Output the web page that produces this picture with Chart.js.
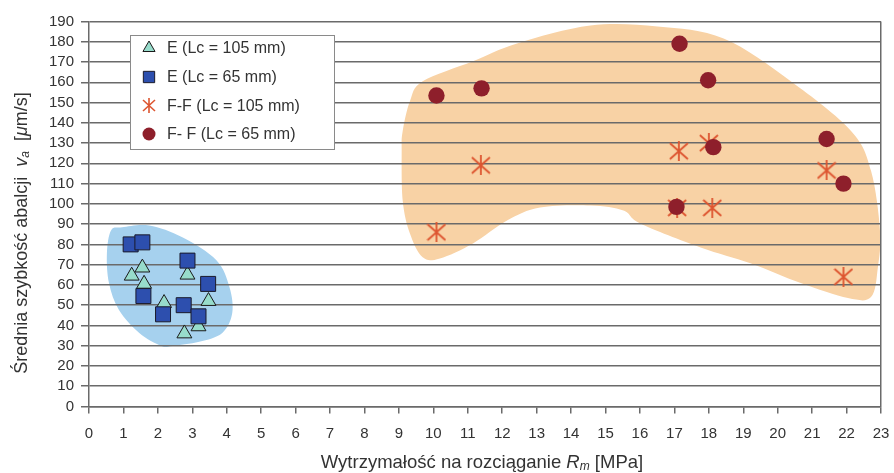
<!DOCTYPE html>
<html lang="pl">
<head>
<meta charset="utf-8">
<script src="https://cdn.jsdelivr.net/npm/chart.js@4/dist/chart.umd.min.js"></script>
<style>
  html, body { margin: 0; padding: 0; background: #fff; }
  #wrap { width: 894px; height: 473px; position: relative; }
</style>
</head>
<body>
<div id="wrap"><canvas id="chart"></canvas></div>
<script>
// Series labels (legend order)
const seriesLabels = ['E (Lc = 105 mm)', 'E (Lc = 65 mm)', 'F-F (Lc = 105 mm)', 'F- F (Lc = 65 mm)'];

// E, Lc = 105 mm
const e105X = [1.24, 1.55, 1.60, 2.18, 2.86, 3.47, 3.18, 2.77];
const e105Y = [64.5, 68.5, 60.5, 51.0, 65.0, 52.0, 39.5, 36.0];
// E, Lc = 65 mm
const e65X = [1.21, 1.55, 2.86, 1.58, 2.15, 2.75, 3.18, 3.46];
const e65Y = [80.0, 81.0, 72.0, 54.5, 45.5, 50.0, 44.5, 60.5];
// F-F, Lc = 105 mm
const ff105X = [10.09, 11.38, 17.13, 18.00, 17.08, 18.10, 21.42, 21.91];
const ff105Y = [86.0, 119.0, 126.0, 130.0, 98.0, 98.0, 116.5, 64.0];
// F-F, Lc = 65 mm
const ff65X = [10.09, 11.40, 17.15, 17.98, 18.13, 21.42, 21.91, 17.06];
const ff65Y = [153.5, 157.0, 179.0, 161.0, 128.0, 132.0, 110.0, 98.5];

// Axis ranges
const xMin = 0, xMax = 23, xStep = 1;
const yMin = 0, yMax = 190, yStep = 10;

// Outlines of the shaded groups (axis units)
const blueZoneX = [0.96, 1.75, 2.71, 3.70, 4.08, 4.16, 3.87, 3.20, 2.42, 2.10, 1.46, 0.87, 0.58, 0.52, 0.64];
const blueZoneY = [88.4, 89.3, 83.5, 72.2, 58.9, 46.1, 36.3, 31.9, 29.9, 29.9, 36.3, 47.6, 60.9, 75.6, 86.9];
const orangeZoneX = [9.69, 11.15, 12.43, 14.56, 16.51, 18.43, 20.38, 22.13, 22.71, 22.97, 22.91, 22.71, 22.04, 20.67, 19.21, 17.76, 16.01, 15.52, 14.56, 13.10, 12.14, 11.15, 10.19, 9.69, 9.32, 9.11, 9.08, 9.11, 9.32];
const orangeZoneY = [160.5, 170.4, 179.2, 188.0, 187.5, 181.6, 160.5, 136.0, 116.3, 86.9, 68.7, 54.0, 53.5, 60.9, 70.7, 78.5, 90.3, 96.7, 99.2, 98.2, 91.8, 80.5, 73.1, 73.6, 85.4, 101.6, 126.2, 136.0, 150.7];

const FONT = '"Liberation Sans", Arial, sans-serif';
const TEXT = '#333333';
const GRID = '#6a6a6a';

function toPoints(xs, ys) { return xs.map((x, i) => ({ x: x, y: ys[i] })); }

// Six-armed asterisk marker
function makeAsterisk(w, h, color, lw) {
  const c = document.createElement('canvas');
  c.width = w; c.height = h;
  const g = c.getContext('2d');
  g.strokeStyle = color; g.lineWidth = lw; g.lineCap = 'butt';
  g.beginPath();
  g.moveTo(w / 2, 0); g.lineTo(w / 2, h);
  g.moveTo(1, 2); g.lineTo(w - 1, h - 2);
  g.moveTo(w - 1, 2); g.lineTo(1, h - 2);
  g.stroke();
  return c;
}
const starBig = makeAsterisk(20, 20, '#dd5530', 1.8);
const starSmall = makeAsterisk(14, 15, '#dd5530', 1.6);

const styles = [
  { pointStyle: 'triangle', radius: 8.6, bg: '#97dccb', border: '#1a1a1a', bw: 1, legendRadius: 7 },
  { pointStyle: 'rect', radius: 10.6, bg: '#2d4fae', border: '#1a1a2a', bw: 1, legendRadius: 8 },
  { pointStyle: starBig, radius: 10, bg: '#dd5530', border: '#dd5530', bw: 0, legendStyle: starSmall },
  { pointStyle: 'circle', radius: 8.2, bg: '#8e1f2b', border: '#8e1f2b', bw: 0, legendRadius: 6.5 }
];

const seriesData = [toPoints(e105X, e105Y), toPoints(e65X, e65Y), toPoints(ff105X, ff105Y), toPoints(ff65X, ff65Y)];
// circles above asterisks, squares above triangles
const drawOrder = [3, 2, 1, 0];

const datasets = seriesData.map((d, i) => ({
  label: seriesLabels[i],
  data: d,
  order: drawOrder[i],
  pointStyle: styles[i].pointStyle,
  pointRadius: styles[i].radius,
  pointHoverRadius: styles[i].radius,
  backgroundColor: styles[i].bg,
  borderColor: styles[i].border,
  borderWidth: styles[i].bw,
  pointBorderWidth: styles[i].bw
}));

function smoothClosed(ctx, pts) {
  const n = pts.length;
  ctx.moveTo(pts[0][0], pts[0][1]);
  for (let i = 0; i < n; i++) {
    const p0 = pts[(i - 1 + n) % n], p1 = pts[i], p2 = pts[(i + 1) % n], p3 = pts[(i + 2) % n];
    const t = 1 / 6;
    ctx.bezierCurveTo(
      p1[0] + (p2[0] - p0[0]) * t, p1[1] + (p2[1] - p0[1]) * t,
      p2[0] - (p3[0] - p1[0]) * t, p2[1] - (p3[1] - p1[1]) * t,
      p2[0], p2[1]);
  }
  ctx.closePath();
}

// Shaded group regions, painted beneath the grid
const zonesPlugin = {
  id: 'zones',
  beforeDraw(chart) {
    const { ctx, chartArea, scales } = chart;
    const zones = [
      { xs: blueZoneX, ys: blueZoneY, color: '#a6d1ee' },
      { xs: orangeZoneX, ys: orangeZoneY, color: '#f8d2a5' }
    ];
    ctx.save();
    ctx.beginPath();
    ctx.rect(chartArea.left, chartArea.top, chartArea.right - chartArea.left, chartArea.bottom - chartArea.top);
    ctx.clip();
    zones.forEach(z => {
      const pts = z.xs.map((x, i) => [scales.x.getPixelForValue(x), scales.y.getPixelForValue(z.ys[i])]);
      ctx.beginPath();
      smoothClosed(ctx, pts);
      ctx.fillStyle = z.color;
      ctx.fill();
    });
    ctx.restore();
  }
};

// Draws a run of text pieces with mixed styles; returns total width
function drawRuns(ctx, runs, x, y, measureOnly) {
  let cx = x;
  runs.forEach(r => {
    ctx.font = (r.italic ? 'italic ' : '') + r.size + 'px ' + FONT;
    if (!measureOnly) ctx.fillText(r.text, cx, y + (r.dy || 0));
    cx += ctx.measureText(r.text).width;
  });
  return cx - x;
}

const titlesPlugin = {
  id: 'titles',
  afterDraw(chart) {
    const { ctx } = chart;
    ctx.save();
    ctx.fillStyle = TEXT;
    ctx.textBaseline = 'middle';
    ctx.textAlign = 'left';
    // x-axis title
    const xRuns = [
      { text: 'Wytrzymałość na rozciąganie ', size: 18.5 },
      { text: 'R', size: 18.5, italic: true },
      { text: 'm', size: 12, italic: true, dy: 4 },
      { text: ' [MPa]', size: 18.5 }
    ];
    const wx = drawRuns(ctx, xRuns, 0, 0, true);
    drawRuns(ctx, xRuns, 482 - wx / 2, 463);
    // y-axis title
    const yRuns = [
      { text: 'Średnia szybkość abalcji  ', size: 18 },
      { text: 'v', size: 18, italic: true },
      { text: 'a', size: 12, italic: true, dy: 4 },
      { text: '  [', size: 18 },
      { text: 'μ', size: 18, italic: true },
      { text: 'm/s]', size: 18 }
    ];
    const wy = drawRuns(ctx, yRuns, 0, 0, true);
    ctx.translate(22, 233);
    ctx.rotate(-Math.PI / 2);
    drawRuns(ctx, yRuns, -wy / 2, 0);
    ctx.restore();
  }
};

// Boxed legend inside the plot area
const legendBoxPlugin = {
  id: 'legendBox',
  afterDraw(chart) {
    const { ctx } = chart;
    const left = 130, top = 35, width = 204, height = 114;
    const rows = [48, 77, 105.5, 134];
    ctx.save();
    ctx.fillStyle = '#ffffff';
    ctx.fillRect(left, top, width, height);
    ctx.strokeStyle = '#8a8a8a';
    ctx.lineWidth = 1;
    ctx.strokeRect(left + 0.5, top + 0.5, width, height);
    chart.data.datasets.forEach((ds, i) => {
      const s = styles[i];
      ctx.fillStyle = s.bg;
      ctx.strokeStyle = s.border;
      ctx.lineWidth = s.bw;
      Chart.helpers.drawPoint(ctx, {
        pointStyle: s.legendStyle || s.pointStyle,
        radius: s.legendRadius || 7,
        rotation: 0,
        borderWidth: s.bw
      }, 149, rows[i]);
      ctx.fillStyle = TEXT;
      ctx.font = '16px ' + FONT;
      ctx.textBaseline = 'middle';
      ctx.textAlign = 'left';
      ctx.fillText(ds.label, 167, rows[i] + 1);
    });
    ctx.restore();
  }
};

new Chart(document.getElementById('chart'), {
  type: 'scatter',
  data: { datasets: datasets },
  plugins: [zonesPlugin, titlesPlugin, legendBoxPlugin],
  options: {
    responsive: true,
    maintainAspectRatio: false,
    animation: false,
    events: [],
    layout: { padding: { top: 21.5, right: 13, left: 0, bottom: 0 } },
    plugins: { legend: { display: false }, tooltip: { enabled: false } },
    scales: {
      x: {
        type: 'linear',
        min: xMin, max: xMax,
        afterFit(scale) { scale.height = 66.5; scale.paddingLeft = 0; scale.paddingRight = 0; },
        ticks: { stepSize: xStep, color: TEXT, font: { family: FONT, size: 15 }, padding: 11, maxRotation: 0, autoSkip: false },
        grid: {
          drawOnChartArea: true,
          color: c => (c.tick && c.tick.value === xMax ? GRID : 'rgba(0,0,0,0)'),
          lineWidth: 1.5,
          tickColor: GRID,
          tickLength: 7
        },
        border: { display: true, color: GRID, width: 1.5 }
      },
      y: {
        type: 'linear',
        min: yMin, max: yMax,
        afterFit(scale) { scale.width = 89; scale.paddingTop = 0; scale.paddingBottom = 0; },
        ticks: { stepSize: yStep, color: TEXT, font: { family: FONT, size: 15 }, padding: 7, autoSkip: false },
        grid: { color: GRID, lineWidth: 1.5, tickColor: GRID, tickLength: 8 },
        border: { display: true, color: GRID, width: 1.5 }
      }
    }
  }
});
</script>
</body>
</html>
